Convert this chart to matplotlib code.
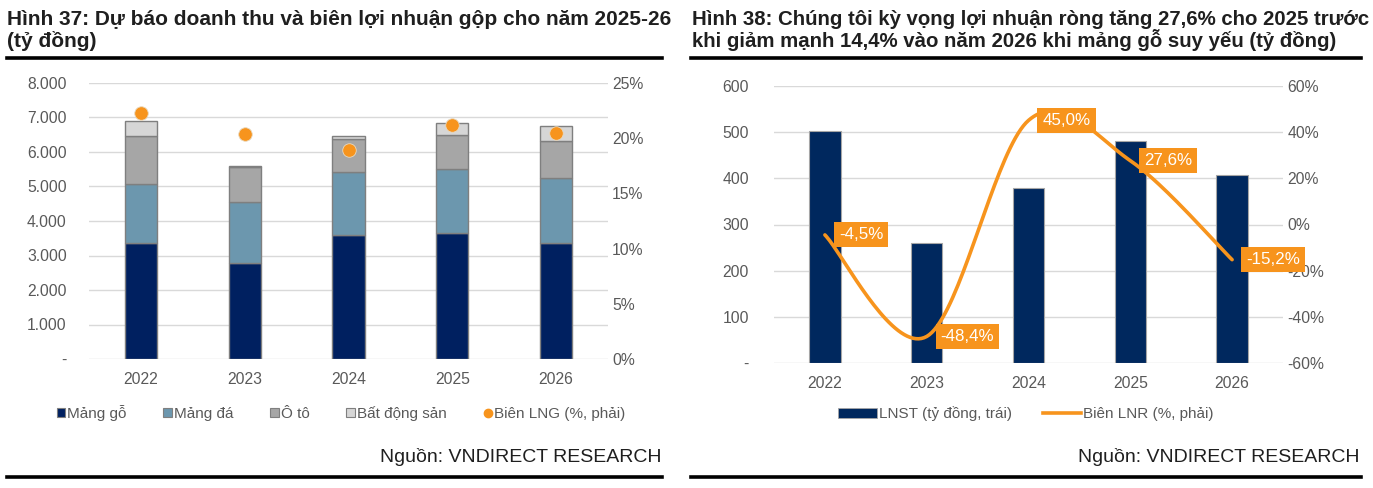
import numpy as np
import matplotlib
matplotlib.use("Agg")
import matplotlib.pyplot as plt
from matplotlib.patches import Patch
from matplotlib.lines import Line2D
from matplotlib.ticker import FuncFormatter, MultipleLocator

# ---------------- data ----------------
years = ["2022", "2023", "2024", "2025", "2026"]
mang_go = [3370, 2780, 3600, 3660, 3350]
mang_da = [1700, 1780, 1810, 1860, 1900]
o_to = [1380, 1000, 980, 980, 1060]
bat_dong_san = [440, 40, 65, 340, 430]
bien_lng = [22.3, 20.4, 18.9, 21.2, 20.5]          # %

lnst = [502, 261, 378, 481, 407]
bien_lnr = [-4.5, -48.4, 45.0, 27.6, -15.2]        # %
lnr_labels = ["-4,5%", "-48,4%", "45,0%", "27,6%", "-15,2%"]

title_left = ["Hình 37: Dự báo doanh thu và biên lợi nhuận gộp cho năm 2025-26",
              "(tỷ đồng)"]
title_right = ["Hình 38: Chúng tôi kỳ vọng lợi nhuận ròng tăng 27,6% cho 2025 trước",
               "khi giảm mạnh 14,4% vào năm 2026 khi mảng gỗ suy yếu (tỷ đồng)"]
source = "Nguồn: VNDIRECT RESEARCH"

# ---------------- style ----------------
W, H = 1373, 488
plt.rcParams["font.family"] = ["Liberation Sans", "DejaVu Sans"]
NAVY = "#002060"
STEEL = "#6C97AE"
GRAY = "#A6A6A6"
LGRAY = "#D6D6D6"
ORANGE = "#F7941D"
TICK = "#595959"
GRID = "#D9D9D9"

fig = plt.figure(figsize=(W / 100, H / 100), dpi=100)
fig.patch.set_facecolor("white")


def fx(px):
    return px / W


def fy(py):
    return 1 - py / H


def ax_rect(x0, y0, x1, y1):
    return [fx(x0), fy(y1), fx(x1) - fx(x0), fy(y0) - fy(y1)]


renderer = fig.canvas.get_renderer()


def fit_size(s, target_w, size, **kw):
    t = fig.text(0, 0, s, fontsize=size, **kw)
    w = t.get_window_extent(renderer=renderer).width
    t.remove()
    return size * target_w / w


def style_axes(ax, ax2):
    for a in (ax, ax2):
        for sp in a.spines.values():
            sp.set_visible(False)
        a.tick_params(length=0, colors=TICK, labelsize=11.3)
    ax.set_axisbelow(True)
    ax.yaxis.grid(True, color=GRID, lw=1.0)
    ax.set_xlim(-0.5, len(years) - 0.5)
    ax.set_xticks(np.arange(len(years)))
    ax.set_xticklabels(years)
    ax.tick_params(axis="x", pad=9)


def thousands(v, _):
    if abs(v) < 1e-9:
        return "-"
    return f"{int(round(v)):,}".replace(",", ".")


def smooth(xs, ys, n=40):
    # Excel-style smoothed line (cubic Bezier / Catmull-Rom through the points)
    xs = np.asarray(xs, float)
    ys = np.asarray(ys, float)
    P = np.column_stack([xs, ys])
    out = []
    for i in range(len(P) - 1):
        p0 = P[i - 1] if i > 0 else P[i]
        p1 = P[i]
        p2 = P[i + 1]
        p3 = P[i + 2] if i + 2 < len(P) else P[i + 1]
        c1 = p1 + (p2 - p0) / 6
        c2 = p2 - (p3 - p1) / 6
        t = np.linspace(0, 1, n)[:, None]
        seg = ((1 - t) ** 3) * p1 + 3 * ((1 - t) ** 2) * t * c1 + 3 * (1 - t) * t ** 2 * c2 + t ** 3 * p2
        out.append(seg if i == 0 else seg[1:])
    out = np.vstack(out)
    return out[:, 0], out[:, 1]


# ---------------- left chart ----------------
ax = fig.add_axes(ax_rect(89, 83, 608, 359))
ax2 = ax.twinx()
style_axes(ax, ax2)
x = np.arange(len(years))
bw = 0.31
ec = "#7F7F7F"
b0 = np.zeros(len(years))
for vals, col in [(mang_go, NAVY), (mang_da, STEEL), (o_to, GRAY), (bat_dong_san, LGRAY)]:
    ax.bar(x, vals, bw, bottom=b0, color=col, edgecolor=ec, lw=1.0)
    b0 = b0 + np.asarray(vals)
ax.set_ylim(0, 8000)
ax.yaxis.set_major_locator(MultipleLocator(1000))
ax.yaxis.set_major_formatter(FuncFormatter(thousands))
ax.tick_params(axis="y", pad=16)
ax2.scatter(x, bien_lng, s=95, color=ORANGE, edgecolor="#E8D9C0", lw=0.6, zorder=5)
ax2.set_ylim(0, 25)
ax2.yaxis.set_major_locator(MultipleLocator(5))
ax2.yaxis.set_major_formatter(FuncFormatter(lambda v, _: f"{v:.0f}%"))
ax2.tick_params(axis="y", pad=3)

handles_l = [
    Patch(facecolor=NAVY, edgecolor=ec, lw=0.8, label="Mảng gỗ"),
    Patch(facecolor=STEEL, edgecolor=ec, lw=0.8, label="Mảng đá"),
    Patch(facecolor=GRAY, edgecolor=ec, lw=0.8, label="Ô tô"),
    Patch(facecolor=LGRAY, edgecolor=ec, lw=0.8, label="Bất động sản"),
    Line2D([], [], ls="none", marker="o", ms=6, color=ORANGE, label="Biên LNG (%, phải)"),
]
leg = fig.legend(handles=handles_l, loc="center", bbox_to_anchor=(fx(341), fy(413)), ncol=5,
                 frameon=False, fontsize=11, handlelength=0.55, handleheight=0.55,
                 handletextpad=0.15, columnspacing=2.4, borderpad=0)
for t in leg.get_texts():
    t.set_color(TICK)

# ---------------- right chart ----------------
bx = fig.add_axes(ax_rect(774, 85.7, 1283, 363.3))
bx2 = bx.twinx()
style_axes(bx, bx2)
bx.bar(x, lnst, bw, color="#00285E", edgecolor="#A6A6A6", lw=0.8)
bx.set_ylim(0, 600)
bx.yaxis.set_major_locator(MultipleLocator(100))
bx.yaxis.set_major_formatter(FuncFormatter(thousands))
bx.tick_params(axis="y", pad=18)
sx, sy = smooth(x, bien_lnr)
bx2.plot(sx, sy, color=ORANGE, lw=2.6, solid_capstyle="round")
bx2.set_ylim(-60, 60)
bx2.yaxis.set_major_locator(MultipleLocator(20))
bx2.yaxis.set_major_formatter(FuncFormatter(lambda v, _: f"{v:.0f}%"))
bx2.tick_params(axis="y", pad=3)
for xi, yi, lab in zip(x, bien_lnr, lnr_labels):
    bx2.annotate(lab, (xi, yi), xytext=(10, 0), textcoords="offset points", ha="left", va="center",
                 color="white", fontsize=12.2, zorder=10, annotation_clip=False,
                 bbox=dict(boxstyle="square,pad=0.3", fc=ORANGE, ec="none"))

handles_r = [
    Patch(facecolor="#00285E", edgecolor="#A6A6A6", lw=0.6, label="LNST (tỷ đồng, trái)"),
    Line2D([], [], color=ORANGE, lw=2.6, label="Biên LNR (%, phải)"),
]
leg2 = fig.legend(handles=handles_r, loc="center", bbox_to_anchor=(fx(1026), fy(414)), ncol=2,
                  frameon=False, fontsize=11, handlelength=2.5, handleheight=0.6,
                  handletextpad=0.15, columnspacing=2.0, borderpad=0)
for t in leg2.get_texts():
    t.set_color(TICK)

# ---------------- titles, rules, source ----------------
TC = "#1F1F1F"
sz_l = fit_size(title_left[0], 663, 13, fontweight="bold")
sz_r = fit_size(title_right[0], 676, 13, fontweight="bold")
sz = min(sz_l, sz_r)
fig.text(fx(7), fy(25), title_left[0], fontsize=sz_l, fontweight="bold", color=TC, va="baseline")
fig.text(fx(7), fy(47), title_left[1], fontsize=sz_l, fontweight="bold", color=TC, va="baseline")
fig.text(fx(692), fy(25), title_right[0], fontsize=sz_r, fontweight="bold", color=TC, va="baseline")
fig.text(fx(692), fy(47), title_right[1], fontsize=sz_r, fontweight="bold", color=TC, va="baseline")

for (x0, x1) in [(7, 662), (691, 1361)]:
    for yy in (57.5, 477):
        fig.add_artist(Line2D([fx(x0), fx(x1)], [fy(yy), fy(yy)], color="black", lw=2.6,
                              transform=fig.transFigure))

fig.text(fx(661), fy(457), source, fontsize=14, color=TC, ha="right", va="center")
fig.text(fx(1360), fy(457), source, fontsize=14, color=TC, ha="right", va="center")

fig.savefig("out.png", dpi=100)
